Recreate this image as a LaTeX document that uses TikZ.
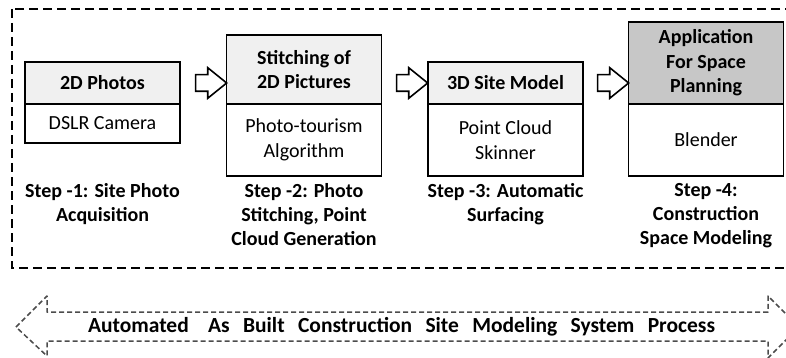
\documentclass[tikz,border=0pt]{standalone}
\usepackage{fontspec}
\setmainfont{Carlito}
\usetikzlibrary{positioning,shapes.arrows}

\tikzset{
  head/.style={draw, line width=1.8pt, fill=black!6, minimum width=155pt, outer sep=0pt,
    align=center, font=\bfseries\fontsize{20}{24.5}\selectfont},
  body/.style={draw, line width=1.8pt, fill=white, minimum width=155pt, outer sep=0pt,
    align=center, font=\fontsize{20}{24.5}\selectfont},
  steplabel/.style={anchor=north, align=center, font=\bfseries\fontsize{20}{24}\selectfont},
  hollow/.style={single arrow, draw, line width=1.6pt, fill=white, inner xsep=0pt, inner ysep=7.5pt,
    minimum height=31pt, single arrow head extend=7pt, single arrow tip angle=78},
}

\begin{document}
\begin{tikzpicture}[x=1pt,y=-1pt]
    \clip (0,0) rectangle (786,358);
    \fill[white] (0,0) rectangle (786,358);

    % outer frame
    \draw[line width=2.4pt, dash pattern=on 9pt off 5pt] (12,9) rectangle (795,268);

    % step 1
    \node[head, minimum height=42pt] (hd1) at (102.5,83) {2D Photos};
    \node[body, minimum height=39pt, below=0pt of hd1] (bd1) {DSLR Camera};

    % step 2
    \node[head, minimum height=69pt] (hd2) at (304,69.5) {Stitching of\\2D Pictures};
    \node[body, minimum height=72pt, below=0pt of hd2] (bd2) {Photo-tourism\\Algorithm};

    % step 3
    \node[head, minimum height=42pt] (hd3) at (505.5,83) {3D Site Model};
    \node[body, minimum height=72pt, below=0pt of hd3] (bd3) {Point Cloud\\Skinner};

    % step 4
    \node[head, minimum height=82pt, fill=black!22] (hd4) at (706,63) {Application\\For Space\\Planning};
    \node[body, minimum height=72pt, below=0pt of hd4] (bd4) {Blender};

    % hollow arrows
    \node[hollow] (ar1) at (206,83) {};
    \node[hollow] (ar2) at (407,83) {};
    \node[hollow] (ar3) at (608,83) {};

    % step labels
    \node[steplabel] (st1) at (bd1.south |- 0,180) {Step -1: Site Photo\\Acquisition};
    \node[steplabel] (st2) at (bd2.south |- 0,180) {Step -2: Photo\\Stitching, Point\\Cloud Generation};
    \node[steplabel] (st3) at (bd3.south |- 0,180) {Step -3: Automatic\\Surfacing};
    \node[steplabel] (st4) at (bd4.south |- 0,180) {Step -4:\\Construction\\Space Modeling};

    % process arrow
    \draw[black!70, line width=1.5pt, dash pattern=on 5pt off 3pt, line join=round]
        (16,327) -- (47,296) -- (47,312) -- (768,312) -- (768,296) -- (799,327)
        -- (768,358) -- (768,341) -- (47,341) -- (47,356) -- cycle;
    \node[font=\bfseries\fontsize{21.5}{24}\selectfont, inner sep=0pt] (proc) at (401.5,327)
        {\makebox[627pt][s]{Automated\hspace{6pt} As Built Construction Site Modeling System Process}};
\end{tikzpicture}
\end{document}
